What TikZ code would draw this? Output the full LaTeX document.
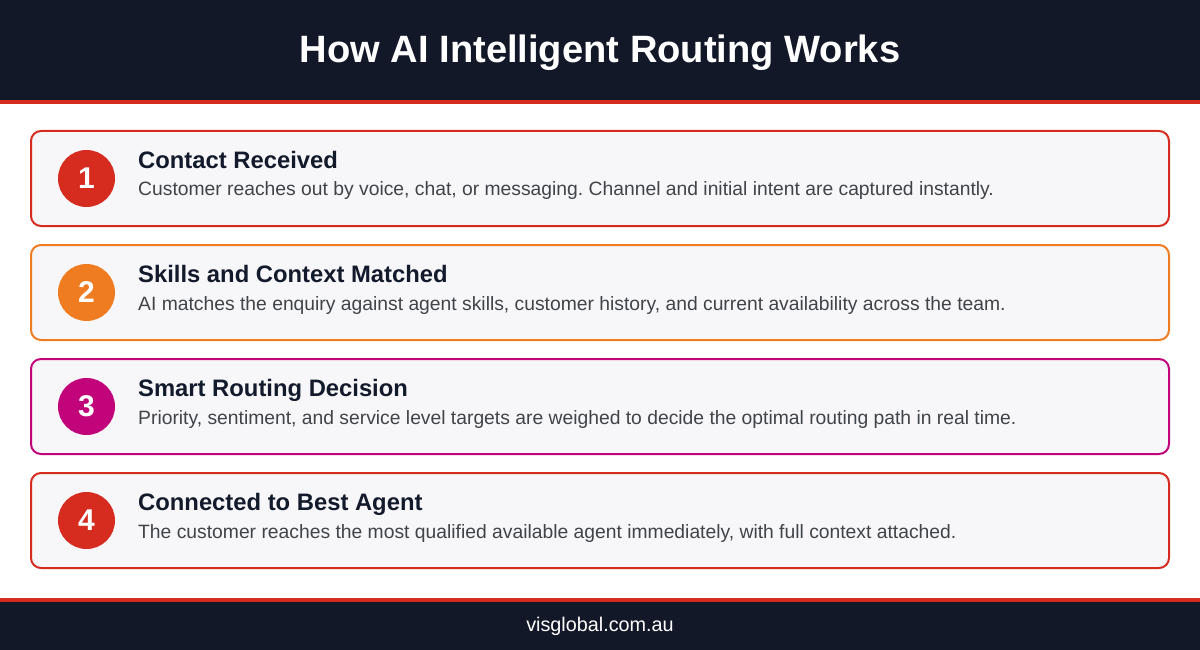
\documentclass[tikz,border=0pt]{standalone}
\usepackage{fontspec}
\setmainfont{Liberation Sans}
\frenchspacing
\definecolor{navy}{HTML}{131829}
\definecolor{redc}{HTML}{D62B1F}
\definecolor{orangec}{HTML}{F07C22}
\definecolor{magc}{HTML}{C2047A}
\definecolor{cardfill}{HTML}{F7F7FA}
\definecolor{headc}{HTML}{131A2B}
\definecolor{descc}{HTML}{404348}
\begin{document}
\begin{tikzpicture}[x=1pt,y=-1pt,
  card/.style={draw=#1, line width=2pt, fill=cardfill, rounded corners=10pt},
  numcirc/.style={circle, fill=#1, minimum size=57pt, inner sep=0pt, text=white, font=\bfseries\fontsize{30}{33}\selectfont},
  heading/.style={anchor=base west, inner sep=0pt, text=headc, font=\bfseries\fontsize{23.8}{26}\selectfont},
  desc/.style={anchor=base west, inner sep=0pt, text=descc, font=\fontsize{19.3}{22}\selectfont}]
\useasboundingbox (0,0) rectangle (1200,650);
\fill[white] (0,0) rectangle (1200,650);
% header
\fill[navy] (0,0) rectangle (1200,100);
\fill[redc] (0,100) rectangle (1200,104);
\node[anchor=base, inner sep=0pt, text=white, font=\bfseries\fontsize{38.1}{42}\selectfont] (title) at (600,63) {How AI Intelligent Routing Works};
% footer
\fill[redc] (0,598) rectangle (1200,602);
\fill[navy] (0,602) rectangle (1200,650);
\node[anchor=base, inner sep=0pt, text=white, font=\fontsize{19.8}{22}\selectfont] (footer) at (600,631) {visglobal.com.au};
% cards
\foreach \i/\col/\num/\head/\txt in {
  0/redc/1/Contact Received/{Customer reaches out by voice, chat, or messaging. Channel and initial intent are captured instantly.},
  1/orangec/2/Skills and Context Matched/{AI matches the enquiry against agent skills, customer history, and current availability across the team.},
  2/magc/3/Smart Routing Decision/{Priority, sentiment, and service level targets are weighed to decide the optimal routing path in real time.},
  3/redc/4/Connected to Best Agent/{The customer reaches the most qualified available agent immediately, with full context attached.}}{
  \pgfmathsetmacro{\top}{131+114*\i}
  \draw[card=\col] (31,\top) rectangle (1169,\top+95);
  \node[numcirc=\col] (num\num) at (86.5,\top+47.5) {\num};
  \node[heading] (head\num) at (138,\top+37) {\head};
  \node[desc] (desc\num) at (138,\top+65) {\txt};
}
\end{tikzpicture}
\end{document}
